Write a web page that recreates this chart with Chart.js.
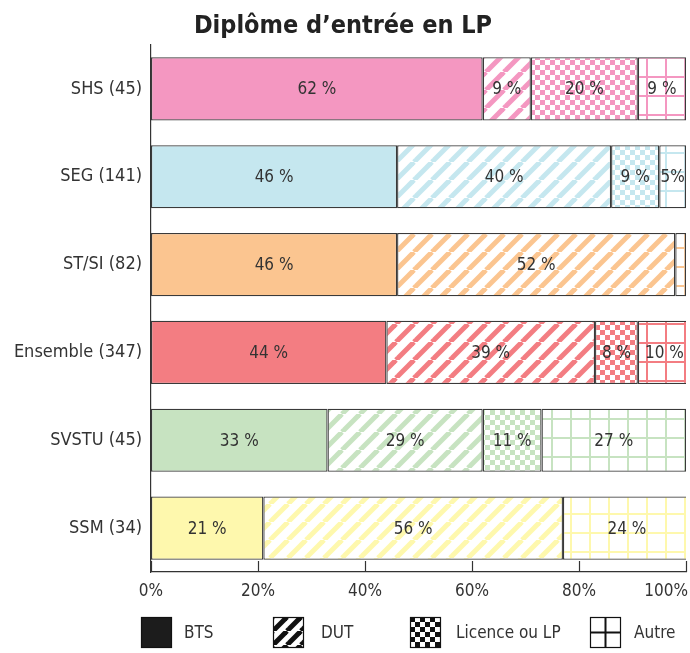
<!DOCTYPE html>
<html>
<head>
<meta charset="utf-8">
<script src="https://cdn.jsdelivr.net/npm/chart.js@4/dist/chart.umd.min.js"></script>
<style>
  html, body { margin: 0; padding: 0; background: #fff; }
  #wrap { width: 690px; height: 653px; }
</style>
</head>
<body>
<div id="wrap"><canvas id="chart"></canvas></div>
<script>
const categories = ["SHS (45)", "SEG (141)", "ST/SI (82)", "Ensemble (347)", "SVSTU (45)", "SSM (34)"];
const seriesNames = ["BTS", "DUT", "Licence ou LP", "Autre"];
const bts = [62, 46, 46, 44, 33, 21];
const dut = [9, 40, 52, 39, 29, 56];
const licence = [20, 9, 0, 8, 11, 0];
const autre = [9, 5, 2, 10, 27, 24];
const xTicks = [0, 20, 40, 60, 80, 100];
const colors = ["#f497c1", "#c5e7ef", "#fbc590", "#f37d82", "#c7e3c1", "#fef8ad"];

const FONT = "'Liberation Sans Narrow', 'DejaVu Sans Condensed', Lato, sans-serif";
const TEXT = "#333";

// pattern tiles
const scratch = document.createElement("canvas").getContext("2d");
function tile(size, draw) {
  const c = document.createElement("canvas");
  c.width = c.height = size;
  const g = c.getContext("2d");
  g.fillStyle = "#fff";
  g.fillRect(0, 0, size, size);
  draw(g, size);
  return scratch.createPattern(c, "repeat");
}
function stripes(col, s = 18, lw = 5) {
  return tile(s, (g) => {
    g.strokeStyle = col;
    g.lineWidth = lw;
    for (const k of [-1, 0, 1]) {
      g.beginPath();
      g.moveTo(k * s, s);
      g.lineTo(k * s + s, 0);
      g.stroke();
    }
  });
}
function checker(col, q = 5) {
  return tile(q * 2, (g) => {
    g.fillStyle = col;
    g.fillRect(0, 0, q, q);
    g.fillRect(q, q, q, q);
  });
}
function grid(col) {
  return tile(19, (g, s) => {
    g.fillStyle = col;
    g.fillRect(0, 0, 2, s);
    g.fillRect(0, 0, s, 2);
  });
}

const fills = [c => c, c => stripes(c), c => checker(c), c => grid(c)];
const seriesData = [bts, dut, licence, autre];

const datasets = seriesData.map((d, i) => ({
  label: seriesNames[i],
  data: d,
  backgroundColor: colors.map(fills[i]),
  borderColor: "#3a3a3a",
  borderWidth: 1.3,
  borderSkipped: false,
  barPercentage: 0.72,
  categoryPercentage: 1
}));

function labelText(v, ds, idx) {
  if (v < 5) return null;
  if (ds === 3 && idx === 1) return v + "%";
  return v + " %";
}

const overlay = {
  id: "overlay",
  afterDraw(chart) {
    const ctx = chart.ctx;
    const xs = chart.scales.x;
    const area = chart.chartArea;
    ctx.save();

    // inward tick marks on the x axis
    ctx.strokeStyle = "#333";
    ctx.lineWidth = 1.2;
    xTicks.forEach(v => {
      const x = Math.round(xs.getPixelForValue(v)) + 0.5;
      ctx.beginPath();
      ctx.moveTo(x, area.bottom);
      ctx.lineTo(x, area.bottom - 11);
      ctx.stroke();
    });

    // x tick labels
    ctx.fillStyle = TEXT;
    ctx.font = "17px " + FONT;
    ctx.textBaseline = "middle";
    xTicks.forEach(v => {
      const x = xs.getPixelForValue(v);
      const t = v + "%";
      const w = ctx.measureText(t).width;
      if (x + w / 2 > chart.width - 2) {
        ctx.textAlign = "right";
        ctx.fillText(t, chart.width - 2, area.bottom + 20);
      } else {
        ctx.textAlign = "center";
        ctx.fillText(t, x, area.bottom + 20);
      }
    });

    // value labels
    ctx.font = "17px " + FONT;
    ctx.textAlign = "center";
    chart.data.datasets.forEach((ds, di) => {
      chart.getDatasetMeta(di).data.forEach((el, i) => {
        const t = labelText(ds.data[i], di, i);
        if (!t) return;
        const right = Math.min(el.x, area.right + 5);
        ctx.fillText(t, (el.base + right) / 2, el.y + 1);
      });
    });

    // legend
    const items = [
      { bx: 141, tx: 184 },
      { bx: 273, tx: 321 },
      { bx: 410, tx: 456 },
      { bx: 590, tx: 634 }
    ];
    const by = 617, bs = 31;
    items.forEach((it, i) => {
      ctx.save();
      ctx.translate(it.bx, by);
      if (i === 0) ctx.fillStyle = "#1c1c1c";
      else if (i === 1) ctx.fillStyle = stripes("#111", 14, 5);
      else if (i === 2) ctx.fillStyle = checker("#111", 5);
      else ctx.fillStyle = "#fff";
      ctx.fillRect(0, 0, bs, bs);
      ctx.strokeStyle = "#111";
      ctx.lineWidth = 1.2;
      ctx.strokeRect(0.5, 0.5, bs - 1, bs - 1);
      if (i === 3) {
        ctx.lineWidth = 2;
        ctx.beginPath();
        ctx.moveTo(bs / 2, 0); ctx.lineTo(bs / 2, bs);
        ctx.moveTo(0, bs / 2); ctx.lineTo(bs, bs / 2);
        ctx.stroke();
      }
      ctx.restore();
      ctx.fillStyle = TEXT;
      ctx.font = "17px " + FONT;
      ctx.textAlign = "left";
      ctx.textBaseline = "middle";
      ctx.fillText(seriesNames[i], it.tx, by + bs / 2 + 1);
    });

    ctx.restore();
  }
};

new Chart(document.getElementById("chart"), {
  type: "bar",
  data: { labels: categories, datasets },
  options: {
    indexAxis: "y",
    responsive: true,
    maintainAspectRatio: false,
    animation: false,
    layout: { padding: { left: 0, right: 4, top: 0, bottom: 53 } },
    plugins: {
      legend: { display: false },
      tooltip: { enabled: false },
      title: {
        display: true,
        text: "Diplôme d’entrée en LP",
        color: "#222",
        font: { family: FONT, size: 25, weight: "bold" },
        padding: { top: 11, bottom: 4 }
      }
    },
    scales: {
      x: {
        stacked: true,
        min: 0,
        max: 100,
        ticks: { display: false, stepSize: 20 },
        grid: { display: false, drawTicks: false },
        border: { display: true, color: "#333", width: 1.2 },
        afterFit(s) { s.height = 28; s.paddingLeft = 0; s.paddingRight = 0; }
      },
      y: {
        stacked: true,
        ticks: { color: TEXT, font: { family: FONT, size: 18 }, padding: 9 },
        grid: { display: false, drawTicks: false },
        border: { display: true, color: "#333", width: 1.2 },
        afterFit(s) { s.width = 151; }
      }
    }
  },
  plugins: [overlay]
});
</script>
</body>
</html>
